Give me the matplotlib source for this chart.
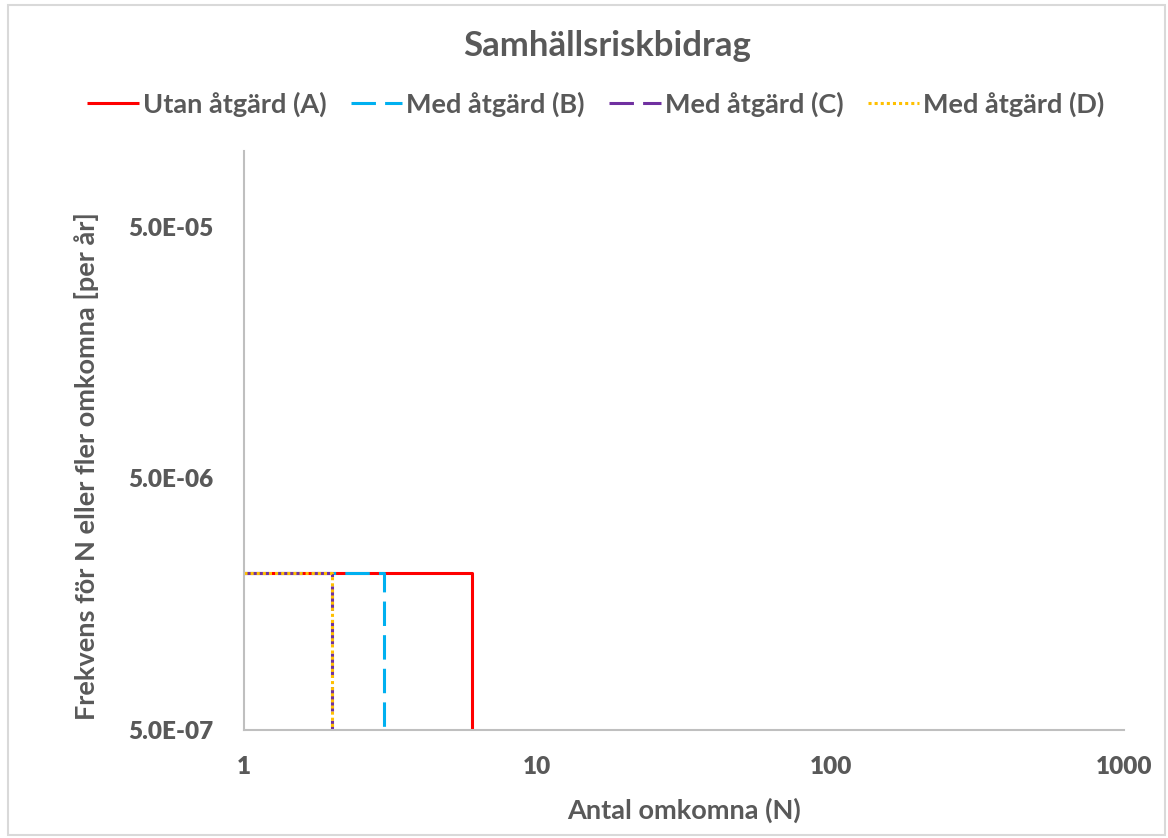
"""Samhällsriskbidrag: F/N-kurvor med och utan åtgärd."""

import matplotlib.pyplot as plt
from matplotlib.patches import Rectangle

plt.rcParams["font.family"] = ["Lato", "DejaVu Sans"]

# F/N-data: största antal omkomna per alternativ och frekvens (per år)
labels = ["Utan åtgärd (A)", "Med åtgärd (B)", "Med åtgärd (C)", "Med åtgärd (D)"]
n_max = [6, 3, 2, 2]
freq = [2.1e-6, 2.1e-6, 2.1e-6, 2.1e-6]
freq_floor = 1e-8  # frekvens för N över n_max (under axelns nedre gräns)

x_ticks = [1, 10, 100, 1000]
y_ticks = [5e-7, 5e-6, 5e-5]
y_tick_labels = ["5.0E-07", "5.0E-06", "5.0E-05"]

colors = ["#FF0000", "#00B0F0", "#7030A0", "#FFC000"]
dashes = [None, (8, 3), (8, 3), (1, 1)]

TEXT = "#595959"
AXIS = "#BFBFBF"


def main() -> None:
    fig = plt.figure(figsize=(11.68, 8.38), dpi=100)
    fig.patches.append(
        Rectangle((8 / 1168, 3 / 838), 1157 / 1168, 830 / 838, transform=fig.transFigure,
                  facecolor="none", edgecolor="#D9D9D9", linewidth=1.5)
    )
    ax = fig.add_axes([244 / 1168, 1 - 730 / 838, 880 / 1168, 579 / 838])
    ax.set_xscale("log")
    ax.set_yscale("log")
    ax.set_xlim(1, 1000)
    ax.set_ylim(5e-7, 1e-4)

    lw = 2.2
    for lab, n, f, c, d in zip(labels, n_max, freq, colors, dashes):
        xs = [1, n, n]
        ys = [f, f, freq_floor]
        (line,) = ax.plot(xs, ys, color=c, lw=lw, label=lab, solid_capstyle="butt",
                          dash_capstyle="butt")
        if d is not None:
            line.set_dashes(d)

    for side in ("top", "right"):
        ax.spines[side].set_visible(False)
    for side in ("left", "bottom"):
        ax.spines[side].set_color(AXIS)
        ax.spines[side].set_linewidth(1.5)

    ax.set_xticks(x_ticks)
    ax.set_xticklabels([str(t) for t in x_ticks])
    ax.set_yticks(y_ticks)
    ax.set_yticklabels(y_tick_labels)
    ax.minorticks_off()
    ax.tick_params(length=0, colors=TEXT, labelsize=17.5)
    for lbl in ax.get_xticklabels() + ax.get_yticklabels():
        lbl.set_fontweight("heavy")
    ax.tick_params(axis="x", pad=19)
    ax.tick_params(axis="y", pad=22)

    ax.set_xlabel("Antal omkomna (N)", fontsize=19.5, fontweight="bold", color=TEXT,
                  va="center")
    ax.set_ylabel("Frekvens för N eller fler omkomna [per år]", fontsize=19.5,
                  fontweight="bold", color=TEXT, va="center")
    ax.xaxis.set_label_coords(0.5, (730 - 810) / 579)
    ax.yaxis.set_label_coords((87 - 244) / 880, (730 - 466) / 579)

    fig.text(607 / 1168, 1 - 46 / 838, "Samhällsriskbidrag", ha="center", va="center",
             fontsize=25, fontweight="bold", color=TEXT)

    leg = fig.legend(loc="center", bbox_to_anchor=(596 / 1168, 1 - 104 / 838), ncol=4,
                     frameon=False, fontsize=19.5, handlelength=1.9, handletextpad=0.15,
                     columnspacing=0.9)
    for t in leg.get_texts():
        t.set_color(TEXT)
        t.set_fontweight("bold")

    fig.savefig("out.png", dpi=100)
    plt.close(fig)


if __name__ == "__main__":
    main()
